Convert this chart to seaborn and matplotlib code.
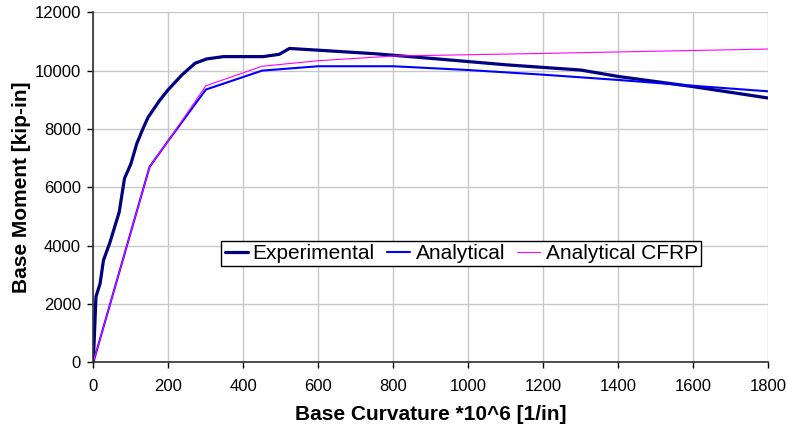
import matplotlib
matplotlib.use("Agg")
import matplotlib.pyplot as plt
import seaborn as sns

# curvature (x1e6, 1/in) vs base moment (kip-in)
exp_curv = [0, 7, 18, 27, 44, 69, 83, 100, 116, 132, 146, 178, 200, 236, 271,
            302, 347, 453, 496, 523, 600, 750, 900, 1100, 1300, 1400, 1600, 1800]
exp_moment = [0, 2250, 2700, 3500, 4100, 5150, 6300, 6800, 7500, 8000, 8400, 9000,
              9350, 9850, 10250, 10400, 10480, 10480, 10560, 10760, 10700, 10580,
              10420, 10200, 10020, 9800, 9450, 9060]

ana_curv = [0, 150, 200, 300, 450, 600, 800, 1000, 1200, 1400, 1600, 1800]
ana_moment = [0, 6700, 7600, 9350, 10000, 10150, 10150, 10020, 9860, 9680, 9480, 9290]

cfrp_curv = [0, 150, 200, 300, 450, 600, 800, 1200, 1600, 1800]
cfrp_moment = [0, 6700, 7600, 9480, 10150, 10340, 10500, 10590, 10690, 10740]

x_ticks = list(range(0, 2000, 200))
y_ticks = list(range(0, 14000, 2000))

sns.set_style("white")
plt.rcParams['font.family'] = ['Liberation Sans', 'DejaVu Sans']
plt.rcParams['text.color'] = 'black'
plt.rcParams['axes.labelcolor'] = 'black'
plt.rcParams['xtick.color'] = 'black'
plt.rcParams['ytick.color'] = 'black'

fig = plt.figure(figsize=(7.87, 4.34), dpi=100)
ax = fig.add_axes([0.1186, 0.1652, 0.8576, 0.8065])

sns.lineplot(x=exp_curv, y=exp_moment, ax=ax, sort=False, estimator=None,
             color='#000080', linewidth=2.3, label='Experimental')
sns.lineplot(x=ana_curv, y=ana_moment, ax=ax, sort=False, estimator=None,
             color='#0000FF', linewidth=1.5, label='Analytical')
sns.lineplot(x=cfrp_curv, y=cfrp_moment, ax=ax, sort=False, estimator=None,
             color='#FF00FF', linewidth=0.8, label='Analytical CFRP')

ax.set_xlim(0, 1800)
ax.set_ylim(0, 12000)
ax.set_xticks(x_ticks)
ax.set_yticks(y_ticks)
ax.grid(True, color='#c8c8c8', linewidth=1)
ax.set_axisbelow(True)
for s in ['top', 'right']:
    ax.spines[s].set_visible(False)
for s in ['left', 'bottom']:
    ax.spines[s].set_color('#303030')
    ax.spines[s].set_linewidth(1.2)
ax.tick_params(axis='both', direction='out', length=4, width=1,
               labelsize=12, left=True, bottom=True)
ax.tick_params(axis='x', pad=8)
ax.tick_params(axis='y', pad=5)

ax.set_xlabel('Base Curvature *10^6 [1/in]', fontsize=15, fontweight='bold', labelpad=8)
ax.set_ylabel('Base Moment [kip-in]', fontsize=15, fontweight='bold', labelpad=2.5)

leg = ax.legend(loc='center', bbox_to_anchor=(0.545, 0.31), ncol=3, fontsize=15,
                frameon=True, fancybox=False, edgecolor='black', framealpha=1,
                handlelength=1.1, handletextpad=0.25, columnspacing=0.6,
                borderpad=0.15, borderaxespad=0)
leg.get_frame().set_linewidth(1)

fig.savefig('out.png', dpi=100)
